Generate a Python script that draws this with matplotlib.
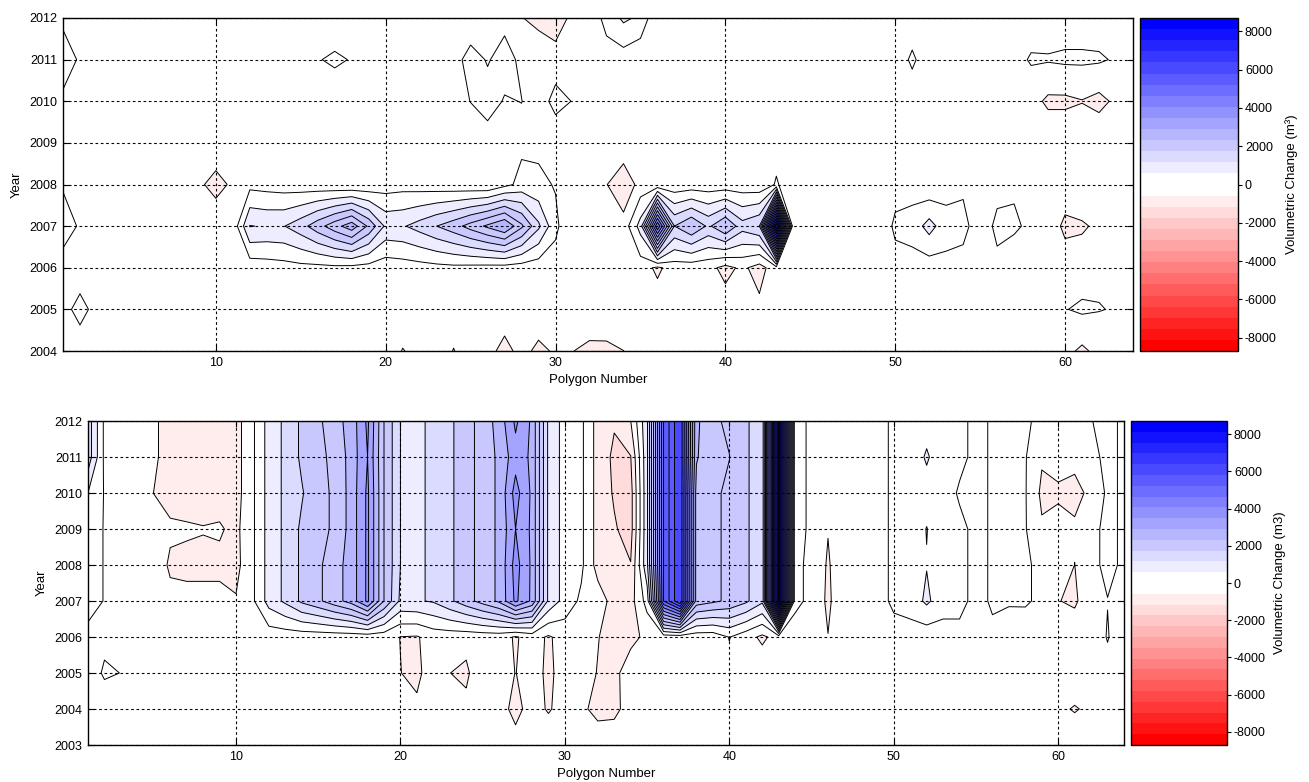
import numpy as np
import matplotlib
matplotlib.use("Agg")
import matplotlib.pyplot as plt
from matplotlib.colors import ListedColormap, Normalize
from matplotlib.cm import ScalarMappable

plt.rcParams['font.family'] = ['Liberation Sans', 'DejaVu Sans']
plt.rcParams['axes.unicode_minus'] = False
plt.rcParams['contour.negative_linestyle'] = 'solid'

# ---------------------------------------------------------------- data
polygons = np.arange(1, 65)
years_top = [2004, 2005, 2006, 2007, 2008, 2009, 2010, 2011, 2012]
years_bottom = [2003, 2004, 2005, 2006, 2007, 2008, 2009, 2010, 2011, 2012]
x_ticks = [10, 20, 30, 40, 50, 60]
cbar_ticks = [-8000, -6000, -4000, -2000, 0, 2000, 4000, 6000, 8000]

# Upper panel: volumetric change per polygon (m3), one list per year (polygons 1..64)
top_2004 = [-100, -250, -100, -100, -100, -100, -100, -100,
            -100, -100, -100, -100, -100, -100, -100, -100,
            -100, -100, -100, -100, -530, -300, -100, -530,
            -100, -300, -700, -300, -650, -419, -491, -600,
            -650, -505, -300, -100, -100, -100, -100, -100,
            -100, -100, -100, -100, -100, -100, -100, -100,
            -100, -100, -100, -100, -100, -100, -100, -100,
            -100, -100, -100, -350, -600, -350, -100, -100]
top_2005 = [-150, 150, -150, -100, -100, -100, -100, -100,
            -100, -100, -100, -100, -100, -100, -100, -100,
            -100, -100, -100, -100, -100, -100, -100, -100,
            -100, -100, -144, -100, -73, -100, -100, -200,
            -25, -100, -100, -215, -100, -100, -100, -255,
            -100, -377, -100, -100, -100, -100, -100, -100,
            -100, -100, -100, -100, -100, -100, -100, -100,
            -100, -100, -100, -20, 80, 20, -33, -100]
top_2006 = [-90, -250, -100, -100, -100, -100, -100, -100,
            -100, -100, -100, -300, -250, -200, -150, -150,
            -120, -150, -200, -300, -250, -200, -150, -120,
            -150, -180, -200, -250, -300, -200, -100, -100,
            -100, -100, -267, -600, -267, -300, -350, -650,
            -400, -700, -200, -300, -100, -100, -100, -100,
            -100, -100, -200, -272, -133, -100, -100, -65,
            -320, -100, -100, -150, -250, -100, -100, -100]
top_2007 = [100, -25, -100, -100, -100, -100, -100, -100,
            -100, -100, -370, 1020, 950, 980, 1300, 1800,
            2300, 2800, 1900, 900, 950, 1200, 1500, 1800,
            2200, 2600, 3000, 2100, 1100, 100, -400, -300,
            -200, -300, 700, 5000, 1500, 2000, 1400, 2000,
            1200, 1500, 8000, -450, -100, -100, -100, -100,
            -200, 50, 200, 700, 200, 80, -150, 60,
            80, -106, -100, -650, -560, -410, -100, -100]
top_2008 = [-22, -100, -100, -100, -100, -100, -100, -100,
            -400, -700, -400, -150, -200, -250, -300, -350,
            -400, -450, -400, -250, -200, -250, -300, -350,
            -400, -450, -150, 150, 100, -30, -300, -300,
            -480, -900, -300, -400, -350, -300, -300, -300,
            -300, -350, 50, -300, -100, -100, -100, -100,
            -100, -100, -200, -411, -200, -45, -100, -83,
            -70, -100, -100, -100, -100, -100, -100, -100]
top_2009 = [-100, -100, -100, -100, -100, -100, -100, -100,
            -100, -100, -100, -100, -100, -100, -100, -100,
            -100, -100, -100, -100, -100, -100, -100, -100,
            -150, -113, -100, -100, -100, -210, -100, -100,
            -100, -100, -100, -100, -100, -100, -100, -100,
            -100, -100, -200, -100, -100, -100, -100, -100,
            -100, -100, -100, -100, -100, -100, -100, -100,
            -100, -100, -100, -100, -100, -100, -100, -100]
top_2010 = [-40, -100, -100, -100, -100, -100, -100, -100,
            -100, -100, -100, -100, -100, -100, -100, -100,
            -400, -100, -100, -100, -100, -100, -100, -100,
            5, 100, -18, 5, -150, 100, -10, -100,
            -100, -100, -100, -100, -100, -100, -100, -100,
            -100, -100, -100, -100, -100, -100, -100, -100,
            -100, -100, -100, -100, -100, -100, -100, -100,
            -100, -306, -600, -600, -520, -650, -400, -100]
top_2011 = [100, -25, -100, -100, -100, -100, -100, -100,
            -100, -100, -100, -100, -100, -100, -100, -35,
            100, -35, -100, -100, -100, -100, -100, -100,
            100, -20, 100, -56, -150, -150, -100, -100,
            -200, -250, -416, -100, -100, -100, -100, -100,
            -100, -100, -100, -100, -100, -100, -100, -100,
            -100, -100, 30, -100, -100, -100, -100, -100,
            -170, 50, 40, 80, 80, 60, -50, -100]
top_2012 = [-40, -100, -100, -100, -100, -100, -100, -100,
            -100, -100, -100, -100, -100, -100, -100, -100,
            -400, -100, -100, -100, -100, -100, -100, -100,
            -185, -100, -75, -480, -650, -950, -300, -300,
            150, 600, 400, -470, -100, -100, -100, -100,
            -100, -100, -100, -100, -100, -100, -100, -100,
            -100, -100, -100, -100, -100, -100, -100, -100,
            -100, -250, -250, -250, -250, -250, -100, -100]

# Lower panel: cumulative volumetric change per polygon (m3)
bot_2003 = [-150, -150, -150, -150, -150, -150, -150, -150,
            -150, -150, -150, -150, -150, -150, -150, -150,
            -150, -150, -150, -150, -150, -150, -150, -150,
            -150, -150, -309, -150, -150, -150, -150, -200,
            -200, -150, -150, -150, -150, -150, -150, -150,
            -150, -150, -150, -150, -150, -150, -150, -150,
            -150, -150, -150, -150, -150, -150, -150, -150,
            -150, -150, -150, -150, -150, -150, -150, -150]
bot_2004 = [-150, -450, -150, -150, -150, -150, -150, -150,
            -150, -150, -150, -150, -150, -150, -150, -150,
            -150, -150, -150, -150, -377, -150, -150, -362,
            -150, -300, -650, -300, -550, -300, -400, -650,
            -620, -300, -150, -150, -150, -150, -150, -150,
            -150, -150, -150, -150, -150, -150, -150, -150,
            -150, -150, -150, -150, -150, -150, -150, -150,
            -150, -150, -150, -400, -540, -400, -150, -150]
bot_2005 = [-400, 100, -10, -150, -150, -150, -150, -150,
            -150, -150, -150, -150, -150, -150, -150, -150,
            -150, -150, -150, -490, -650, -150, -495, -600,
            -100, -300, -510, -300, -600, -300, -300, -520,
            -600, -300, -150, -150, -150, -150, -150, -150,
            -150, -150, -150, -150, -150, -150, -150, -150,
            -150, -150, -150, -150, -150, -150, -150, -150,
            -150, -150, -150, -150, -150, -150, -170, -150]
bot_2006 = [-217, -178, -150, -150, -150, -150, -150, -150,
            -150, -150, -150, -300, -300, -300, -300, -300,
            -300, -300, -300, -510, -540, -300, -300, -322,
            -300, -300, -550, -300, -560, -300, -300, -480,
            -700, -600, -420, -300, -300, -300, -300, 20,
            -300, -600, -300, -200, -150, -489, -150, -150,
            -150, -100, -200, -300, -200, -100, -150, -65,
            -320, -150, -150, -150, -100, -300, 30, -300]
bot_2007 = [300, -30, -150, -300, -150, -351, -380, -380,
            -380, -462, -100, 700, 1100, 1600, 1900, 2300,
            2700, 3600, 2000, 900, 950, 1050, 1400, 1800,
            2200, 2600, 3600, 2900, 900, 300, -100, -235,
            -700, -700, 200, 5000, 6500, 2300, 2100, 1900,
            1600, 1100, 8200, 100, -100, -600, -100, -100,
            -100, 50, 200, 600, 200, 100, -100, 40,
            60, 30, -50, -480, -600, -100, -10, -60]
bot_2008 = [300, -30, -150, -300, -180, -580, -600, -600,
            -600, -650, -100, 700, 1100, 1600, 1900, 2300,
            2700, 3600, 2000, 1000, 950, 1050, 1400, 1800,
            2200, 2600, 3700, 2900, 900, 300, 100, -700,
            -800, -980, 900, 5000, 6500, 2300, 2100, 1900,
            1600, 1100, 8200, 100, -100, -560, -100, -100,
            -100, 50, 200, 480, 200, 100, -100, 40,
            60, 30, -50, -100, -505, -100, 90, -60]
bot_2009 = [300, -30, -150, -300, -300, -414, -450, -480,
            -450, -620, -100, 700, 1100, 1600, 1900, 2050,
            2700, 3600, 2000, 1000, 950, 1050, 1400, 1800,
            2200, 2600, 3500, 2900, 900, 300, 100, -700,
            -950, -1200, 900, 5000, 6500, 2300, 2100, 1900,
            1600, 1100, 8200, 100, -50, -479, -100, -100,
            -100, 50, 200, 515, 200, 100, -100, 40,
            60, 30, -436, -407, -438, -100, 90, -60]
bot_2010 = [500, -30, -150, -300, -505, -700, -700, -700,
            -700, -700, -100, 700, 1100, 1450, 1900, 2050,
            2700, 3600, 2000, 1000, 950, 1050, 1400, 1800,
            2200, 2600, 3700, 2900, 900, 300, 100, -700,
            -1050, -1200, 900, 5000, 6500, 2300, 2100, 1900,
            1600, 1100, 8200, 100, -50, -200, -100, -100,
            -100, 50, 200, 300, 200, -50, -100, 40,
            60, 30, -600, -540, -620, -409, 90, -60]
bot_2011 = [1300, -100, -150, -300, -420, -700, -700, -700,
            -700, -700, -100, 700, 1100, 1600, 1900, 2100,
            2700, 3500, 2000, 1000, 950, 1050, 1400, 1800,
            2200, 2600, 3300, 2900, 900, 300, 100, -700,
            -1100, -1020, 900, 5000, 6500, 2550, 2100, 2010,
            1600, 1100, 8200, 100, -50, -200, -100, -100,
            -100, 50, 200, 560, 200, 100, -100, 40,
            60, 30, -444, -407, -389, -100, 90, -60]
bot_2012 = [1300, -100, -150, -300, -420, -700, -700, -700,
            -700, -700, -100, 700, 1100, 1600, 1900, 2300,
            2700, 3600, 2000, 1000, 950, 1050, 1400, 1800,
            2200, 2700, 3600, 2900, 900, 300, 100, -700,
            -950, -510, 900, 5000, 6500, 2600, 2100, 1900,
            1600, 1100, 8200, 100, -50, -200, -100, -100,
            -100, 50, 200, 300, 200, 100, -100, 40,
            60, 30, -50, -100, -100, -10, 90, -60]

Z_top = np.array([top_2004, top_2005, top_2006, top_2007, top_2008,
                  top_2009, top_2010, top_2011, top_2012], dtype=float)
Z_bottom = np.array([bot_2003, bot_2004, bot_2005, bot_2006, bot_2007,
                     bot_2008, bot_2009, bot_2010, bot_2011, bot_2012], dtype=float)

# ---------------------------------------------------------------- style
# 30-step diverging map: red -> white (15 steps), white -> blue (15 steps)
steps = np.linspace(0.0, 1.0, 15)
colors = [(1.0, s, s) for s in steps] + [(1.0 - s, 1.0 - s, 1.0) for s in steps]
cmap = ListedColormap(colors)
norm = Normalize(vmin=-8700, vmax=8700)
levels = np.arange(-9000, 9001, 500)

fig = plt.figure(figsize=(13.09, 7.82), dpi=100)
W, H = 1309.0, 782.0


def box(l, t, r, b):
    return [l / W, 1 - b / H, (r - l) / W, (b - t) / H]


def panel(ax_rect, cax_rect, years, Z, cbar_label, ylabel_pad):
    ax = fig.add_axes(box(*ax_rect))
    cax = fig.add_axes(box(*cax_rect))
    ax.contourf(polygons, years, Z, levels=levels, cmap=cmap, norm=norm)
    ax.contour(polygons, years, Z, levels=levels, colors='k',
               linewidths=0.7, linestyles='solid')
    ax.set_xlim(1, 64)
    ax.set_ylim(years[0], years[-1])
    ax.set_xticks(x_ticks)
    ax.set_yticks(years)
    ax.set_yticklabels([str(y) for y in years])
    ax.set_axisbelow(False)
    ax.grid(True, color='k', linestyle=(0, (2.4, 2.4)), linewidth=0.8)
    ax.tick_params(direction='in', length=4, labelsize=9, top=True, right=True,
                   pad=4)
    for sp in ax.spines.values():
        sp.set_linewidth(1.0)
    ax.set_xlabel('Polygon Number', fontsize=9.5, labelpad=4)
    ax.set_ylabel('Year', fontsize=9.5, labelpad=ylabel_pad)

    sm = ScalarMappable(norm=norm, cmap=cmap)
    cb = fig.colorbar(sm, cax=cax, ticks=cbar_ticks)
    cb.ax.tick_params(direction='out', length=3, labelsize=9, pad=2)
    cb.outline.set_linewidth(1.0)
    cb.set_label(cbar_label, fontsize=9.5, labelpad=6)
    return ax


panel((63, 18, 1133, 351), (1140, 18, 1238, 351), years_top, Z_top,
      'Volumetric Change (m³)', 5)
panel((88, 421, 1124, 745), (1131, 421, 1227, 745), years_bottom, Z_bottom,
      'Volumetric Change (m3)', 5)

fig.savefig('out.png', dpi=100)
